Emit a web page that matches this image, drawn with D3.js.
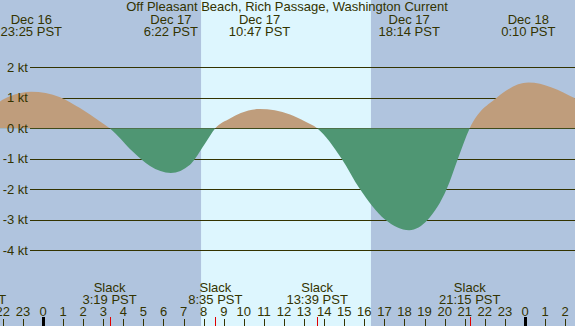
<!DOCTYPE html>
<html>
<head>
<meta charset="utf-8">
<script src="https://cdn.jsdelivr.net/npm/d3@7"></script>
<style>
  body { margin: 0; padding: 0; background: #fff; }
  svg { display: block; font-family: "Liberation Sans", Arial, sans-serif; }
</style>
</head>
<body>
<svg id="chart" width="575" height="326"></svg>
<script>
// Times are hours from Dec 17 00:00 PST
let title = "Off Pleasant Beach, Rich Passage, Washington Current";

// readings of the current curve (hour, knots)
let currentHours = [-3.36, -2.14, -1.64, -0.583, 0.85, 1.84, 2.84, 3.317, 4.48, 5.33, 6.367, 7.32, 7.57, 8.07, 8.583,
    9.31, 9.85, 10.783, 12.30, 13.05, 13.65, 14.87, 15.78, 17.03, 18.233, 19.17, 20.10, 20.66, 21.25, 22.59, 24.167, 26.49];
let currentKnots = [0, 0.88, 1.05, 1.2, 1.02, 0.66, 0.22, 0, -0.77, -1.24, -1.47, -1.2, -1.0, -0.5, 0,
    0.32, 0.50, 0.63, 0.45, 0.22, 0, -1.0, -2.0, -3.0, -3.35, -3.0, -2.0, -1.0, 0, 1.0, 1.5, 0.98];

// max flood / ebb labels on top
let peakHours = [-0.583, 6.367, 10.783, 18.233, 24.167];
let peakDays = ["Dec 16", "Dec 17", "Dec 17", "Dec 17", "Dec 18"];
let peakTimes = ["23:25 PST", "6:22 PST", "10:47 PST", "18:14 PST", "0:10 PST"];

// slack water labels at the bottom
let slackHours = [-3.36, 3.317, 8.583, 13.65, 21.25];
let slackTimes = ["20:38 PST", "3:19 PST", "8:35 PST", "13:39 PST", "21:15 PST"];

let sunrise = 7.87;   // 7:52
let sunset = 16.33;   // 16:20

let knotTicks = [2, 1, 0, -1, -2, -3, -4];
let hourTicks = d3.range(-2, 27);

let svg = d3.select("#chart"),
    width = 575,
    height = 326;

let textColor = "#333300";
let fontSize = 13;

let x = d3.scaleLinear().domain([-2.141, 26.49]).range([0, width]);
let y = d3.scaleLinear().domain([-4, 2]).range([250, 67.3]);

// night / day background
svg.append("rect")
    .attr("width", width)
    .attr("height", height)
    .attr("fill", "#b0c4de");

svg.append("rect")
    .attr("x", x(sunrise))
    .attr("width", x(sunset) - x(sunrise))
    .attr("height", height)
    .attr("fill", "#ddf6fe");

// grid lines
svg.append("g")
    .selectAll("line")
    .data(knotTicks)
    .enter()
    .append("line")
    .attr("x1", 30)
    .attr("x2", width)
    .attr("y1", d => Math.round(y(d)) + 0.5)
    .attr("y2", d => Math.round(y(d)) + 0.5)
    .attr("stroke", textColor)
    .attr("stroke-width", 1);

// current curve, split at zero
let points = currentHours.map((h, i) => [h, currentKnots[i]]);
let area = d3.area()
    .x(d => x(d[0]))
    .y0(y(0))
    .y1(d => y(d[1]))
    .curve(d3.curveMonotoneX);

let defs = svg.append("defs");
defs.append("clipPath").attr("id", "above")
    .append("rect").attr("x", 0).attr("y", 0).attr("width", width).attr("height", y(0));
defs.append("clipPath").attr("id", "below")
    .append("rect").attr("x", 0).attr("y", y(0)).attr("width", width).attr("height", height - y(0));

svg.append("path")
    .datum(points)
    .attr("d", area)
    .attr("fill", "#bf9d7c")
    .attr("clip-path", "url(#above)");

svg.append("path")
    .datum(points)
    .attr("d", area)
    .attr("fill", "#4f9673")
    .attr("clip-path", "url(#below)");

// knot labels sit on top of the fill
svg.append("g")
    .selectAll("text")
    .data(knotTicks)
    .enter()
    .append("text")
    .attr("x", 28)
    .attr("y", d => y(d) + 4.5)
    .attr("text-anchor", "end")
    .attr("font-size", fontSize)
    .attr("fill", textColor)
    .text(d => d + " kt");

// title
svg.append("text")
    .attr("x", width / 2 - 0.5)
    .attr("y", 11)
    .attr("text-anchor", "middle")
    .attr("font-size", fontSize)
    .attr("fill", textColor)
    .text(title);

// peak labels
let peaks = svg.append("g").selectAll("g")
    .data(peakHours)
    .enter()
    .append("g");
peaks.append("text")
    .attr("x", d => x(d))
    .attr("y", 24)
    .attr("text-anchor", "middle")
    .attr("font-size", fontSize)
    .attr("fill", textColor)
    .text((d, i) => peakDays[i]);
peaks.append("text")
    .attr("x", d => x(d))
    .attr("y", 36)
    .attr("text-anchor", "middle")
    .attr("font-size", fontSize)
    .attr("fill", textColor)
    .text((d, i) => peakTimes[i]);

// slack labels
let slacks = svg.append("g").selectAll("g")
    .data(slackHours)
    .enter()
    .append("g");
slacks.append("text")
    .attr("x", d => x(d))
    .attr("y", 292)
    .attr("text-anchor", "middle")
    .attr("font-size", fontSize)
    .attr("fill", textColor)
    .text("Slack");
slacks.append("text")
    .attr("x", d => x(d))
    .attr("y", 304)
    .attr("text-anchor", "middle")
    .attr("font-size", fontSize)
    .attr("fill", textColor)
    .text((d, i) => slackTimes[i]);
slacks.append("line")
    .attr("x1", d => Math.round(x(d)) + 0.5)
    .attr("x2", d => Math.round(x(d)) + 0.5)
    .attr("y1", 317)
    .attr("y2", height)
    .attr("stroke", "#e00000");

// hour axis
let hours = svg.append("g").selectAll("g")
    .data(hourTicks)
    .enter()
    .append("g");
hours.append("text")
    .attr("x", d => x(d))
    .attr("y", 316)
    .attr("text-anchor", "middle")
    .attr("font-size", fontSize)
    .attr("fill", textColor)
    .text(d => (d + 24) % 24);
hours.append("line")
    .attr("x1", d => Math.round(x(d)) + 0.5)
    .attr("x2", d => Math.round(x(d)) + 0.5)
    .attr("y1", d => (d % 24 === 0) ? 317 : 319)
    .attr("y2", height)
    .attr("stroke", d => (d % 24 === 0) ? "#000" : textColor)
    .attr("stroke-width", d => (d % 24 === 0) ? 3 : 1);
</script>
</body>
</html>
